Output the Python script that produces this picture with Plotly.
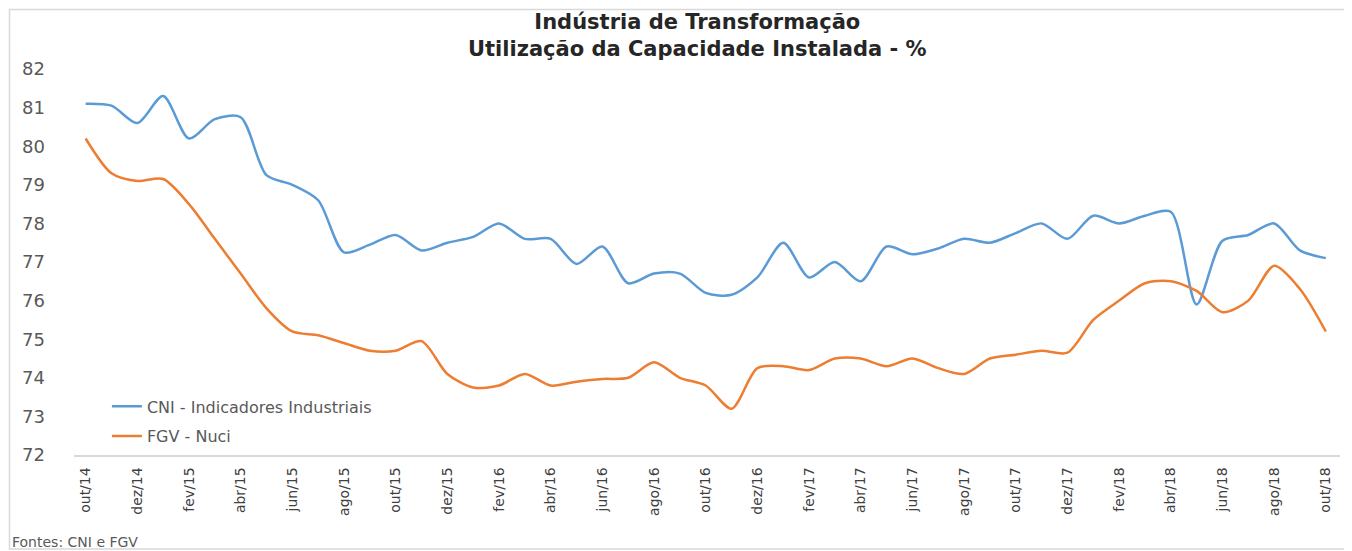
import plotly.graph_objects as go

months = ["out/14","nov/14","dez/14","jan/15","fev/15","mar/15","abr/15","mai/15","jun/15","jul/15",
          "ago/15","set/15","out/15","nov/15","dez/15","jan/16","fev/16","mar/16","abr/16","mai/16",
          "jun/16","jul/16","ago/16","set/16","out/16","nov/16","dez/16","jan/17","fev/17","mar/17",
          "abr/17","mai/17","jun/17","jul/17","ago/17","set/17","out/17","nov/17","dez/17","jan/18",
          "fev/18","mar/18","abr/18","mai/18","jun/18","jul/18","ago/18","set/18","out/18"]

cni = [81.1, 81.05, 80.6, 81.3, 80.2, 80.7, 80.75, 79.25, 79.0, 78.6,
       77.25, 77.45, 77.7, 77.3, 77.5, 77.65, 78.0, 77.6, 77.6, 76.95,
       77.4, 76.45, 76.7, 76.7, 76.2, 76.15, 76.6, 77.5, 76.6, 77.0,
       76.5, 77.4, 77.2, 77.35, 77.6, 77.5, 77.75, 78.0, 77.6, 78.2,
       78.0, 78.2, 78.3, 75.9, 77.55, 77.7, 78.0, 77.3, 77.1]

fgv = [80.2, 79.3, 79.1, 79.15, 78.5, 77.6, 76.7, 75.8, 75.2, 75.1,
       74.9, 74.7, 74.7, 74.95, 74.1, 73.75, 73.8, 74.1, 73.8, 73.9,
       73.97, 74.0, 74.4, 74.0, 73.8, 73.2, 74.25, 74.3, 74.2, 74.5,
       74.5, 74.3, 74.5, 74.25, 74.1, 74.5, 74.6, 74.7, 74.65, 75.5,
       76.0, 76.45, 76.5, 76.25, 75.7, 76.0, 76.9, 76.3, 75.2]

tick_labels = months[::2]
y_ticks = [72, 73, 74, 75, 76, 77, 78, 79, 80, 81, 82]

FONT = "DejaVu Sans, Verdana, sans-serif"

# page body has an 8px default margin, so the figure is drawn offset by (8, 8)
OFF = 8
PL, PR, PT, PB = 74, 1340, 69, 455   # target plot-area edges in screenshot pixels
PW, PH = PR - PL, PB - PT

def px(x):
    return (x - PL) / PW

def py(y):
    return (PB - y) / PH

fig = go.Figure()
fig.add_trace(go.Scatter(x=months, y=cni, mode="lines", name="CNI - Indicadores Industriais",
                         line=dict(color="#5B9BD5", width=2.5, shape="spline", smoothing=0.8),
                         legendgroup="a"))
fig.add_trace(go.Scatter(x=months, y=fgv, mode="lines", name="FGV - Nuci",
                         line=dict(color="#ED7D31", width=2.5, shape="spline", smoothing=0.8),
                         legendgroup="b"))

fig.update_layout(
    width=1352, height=551,
    margin=dict(l=PL - OFF, r=1352 - (PL - OFF) - PW, t=PT - OFF, b=551 - (PT - OFF) - PH),
    paper_bgcolor="white", plot_bgcolor="white",
    font=dict(family=FONT, color="#595959"),
    showlegend=True,
    legend=dict(x=0.026, y=0.17, xanchor="left", yanchor="top",
                font=dict(size=16, color="#595959", family=FONT), bgcolor="rgba(0,0,0,0)",
                tracegroupgap=6, itemwidth=30),
    xaxis=dict(type="category", range=[-0.45, 48.55], tickmode="array",
               tickvals=tick_labels, ticktext=tick_labels, tickangle=-90,
               showgrid=False, showline=True, linecolor="#D9D9D9", linewidth=1.5,
               ticks="", ticklabelstandoff=5,
               tickfont=dict(size=14, color="#404040", family=FONT), zeroline=False),
    yaxis=dict(range=[72, 82], tickvals=y_ticks, showgrid=False, showline=False,
               ticks="", ticklabelstandoff=28, tickfont=dict(size=18, color="#595959", family=FONT),
               zeroline=False),
)

fig.add_annotation(xref="paper", yref="paper", x=px(697), y=py(36),
                   text="<b>Indústria de Transformação<br>Utilização da Capacidade Instalada - %</b>",
                   showarrow=False, xanchor="center", yanchor="middle",
                   font=dict(size=21, color="#262626", family=FONT))

fig.add_annotation(xref="paper", yref="paper", x=px(10), y=py(542),
                   text="Fontes: CNI e FGV", showarrow=False, xanchor="left", yanchor="middle",
                   font=dict(size=14, color="#595959", family=FONT))

fig.add_shape(type="rect", xref="paper", yref="paper",
              x0=px(9.5), x1=px(1346), y0=py(549), y1=py(9.5),
              line=dict(color="#D9D9D9", width=1.5), fillcolor="rgba(0,0,0,0)")

fig.write_html("out.html")
